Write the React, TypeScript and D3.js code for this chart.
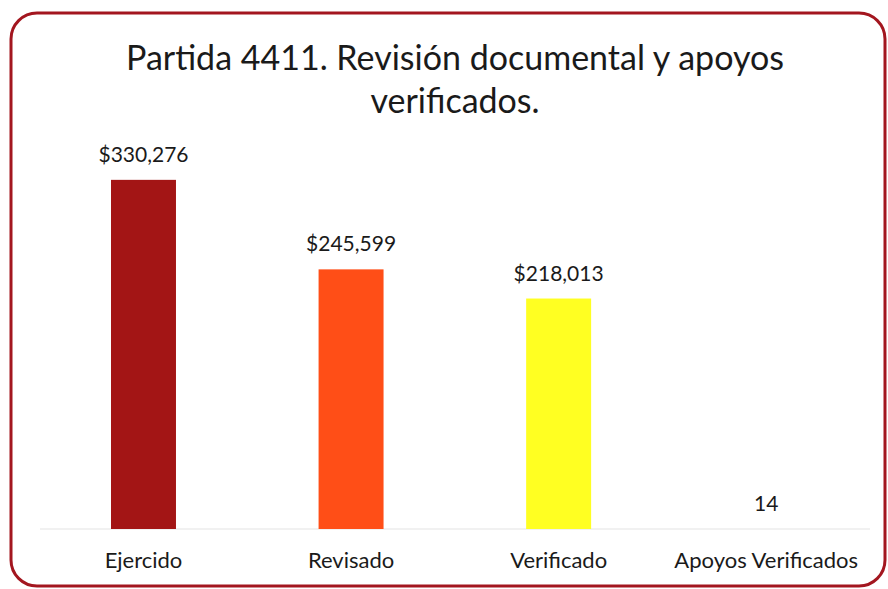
import React from "react";
import * as d3 from "d3";

const categories = ["Ejercido", "Revisado", "Verificado", "Apoyos Verificados"];
const values = [330276, 245599, 218013, 14];
const valueLabels = ["$330,276", "$245,599", "$218,013", "14"];
const colors = ["#A31515", "#FF4E17", "#FFFF22", "#FFFFFF"];
const titleLines = ["Partida 4411. Revisión documental y apoyos", "verificados."];

const W = 888;
const H = 589;
const FONT = "Lato, 'Open Sans', sans-serif";

export default function App() {
  const x = d3.scaleBand<string>().domain(categories).range([39.7, 870]).padding(0);
  const y = d3.scaleLinear().domain([0, 350000]).range([529, 159]);
  const barW = x.bandwidth() * 0.313;

  return (
    <div style={{ position: "absolute", left: 0, top: 0 }}>
      <svg width={W} height={H} style={{ display: "block", background: "#fff" }}>
        <rect x={11} y={13} width={874} height={573} rx={26} ry={26} fill="#fff" stroke="#A3161F" strokeWidth={3} />
        {titleLines.map((t, i) => (
          <text key={i} x={455} y={70 + i * 43} textAnchor="middle" fontFamily={FONT} fontSize={34} fill="#1a1a1a">
            {t}
          </text>
        ))}
        <line x1={40} x2={870} y1={y(0)} y2={y(0)} stroke="#e3e3e3" strokeWidth={1} />
        {categories.map((c, i) => {
          const cx = (x(c) as number) + x.bandwidth() / 2;
          return (
            <g key={c}>
              <rect x={cx - barW / 2} y={y(values[i])} width={barW} height={y(0) - y(values[i])} fill={colors[i]} />
              <text x={cx} y={y(values[i]) - 18} textAnchor="middle" fontFamily={FONT} fontSize={21} fill="#1a1a1a">
                {valueLabels[i]}
              </text>
              <text x={cx} y={568} textAnchor="middle" fontFamily={FONT} fontSize={22} fill="#1a1a1a">
                {c}
              </text>
            </g>
          );
        })}
      </svg>
    </div>
  );
}
